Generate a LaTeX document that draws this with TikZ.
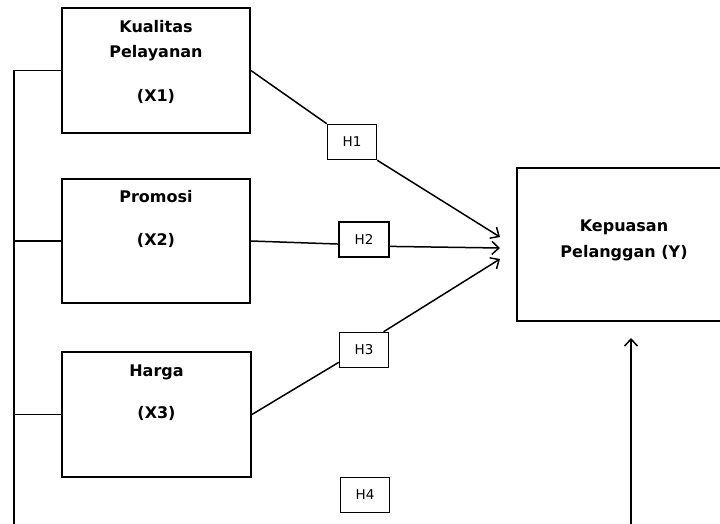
\documentclass[tikz,border=0pt]{standalone}
\usepackage{fontspec}
\setmainfont{DejaVu Sans}
\usetikzlibrary{arrows.meta}
\tikzset{
	>={Straight Barb[length=7pt,width=13pt]},
	varbox/.style={draw, line width=1.8pt, minimum width=188pt, minimum height=125pt},
	hbox/.style={draw, line width=1.5pt, minimum width=49pt, minimum height=35pt, font=\fontsize{13.5}{15}\selectfont},
	boxtext/.style={align=center, font=\fontsize{16}{25.5}\selectfont\bfseries},
}

\begin{document}
\begin{tikzpicture}[x=1pt, y=-1pt, line width=1.5pt]
        \useasboundingbox (0,0) rectangle (720,524);
        \clip (0,0) rectangle (720,524);

        \node[varbox] (x1) at (156,70.5) {};
        \node[varbox, minimum height=124pt] (x2) at (156,241) {};
        \node[varbox, minimum width=189pt] (x3) at (156.5,414.5) {};
        \node[varbox, minimum width=214pt, minimum height=153pt] (y) at (624,244.5) {};

        \node[boxtext] (x1t) at (156,62) {Kualitas\\Pelayanan\\[18.5pt](X1)};
        \node[boxtext] (x2t) at (156,218.5) {Promosi\\[17.5pt](X2)};
        \node[boxtext] (x3t) at (156.5,393) {Harga\\[16.5pt](X3)};
        \node[boxtext] (yt) at (624,240.5) {Kepuasan\\Pelanggan (Y)};

        \node[hbox] (h1) at (352,142) {H1};
        \node[hbox, minimum width=50pt] (h2) at (364,239.5) {H2};
        \node[hbox] (h3) at (364,350) {H3};
        \node[hbox] (h4) at (365,495) {H4};

        \coordinate (tip1) at (500,237);
        \coordinate (tip2) at (500,248);
        \coordinate (tip3) at (500,259);
        \coordinate (tip4) at (631,338);
        \coordinate (foot) at (631,530);
        \coordinate (bus) at (14,530);

        \draw (x1.east) -- (h1.north west);
        \draw[->] (h1.south east) -- (tip1);
        \draw (x2.east) -- (h2.190);
        \draw[->] (h2.-15) -- (tip2);
        \draw (x3.east) -- (h3.206);
        \draw[->] (h3.43) -- (tip3);

        \draw (x1.west) -| (bus);
        \draw (x2.west) -- (x2.west -| bus);
        \draw (x3.west) -- (x3.west -| bus);
        \draw[->] (foot) -- (tip4);
    \end{tikzpicture}
\end{document}
